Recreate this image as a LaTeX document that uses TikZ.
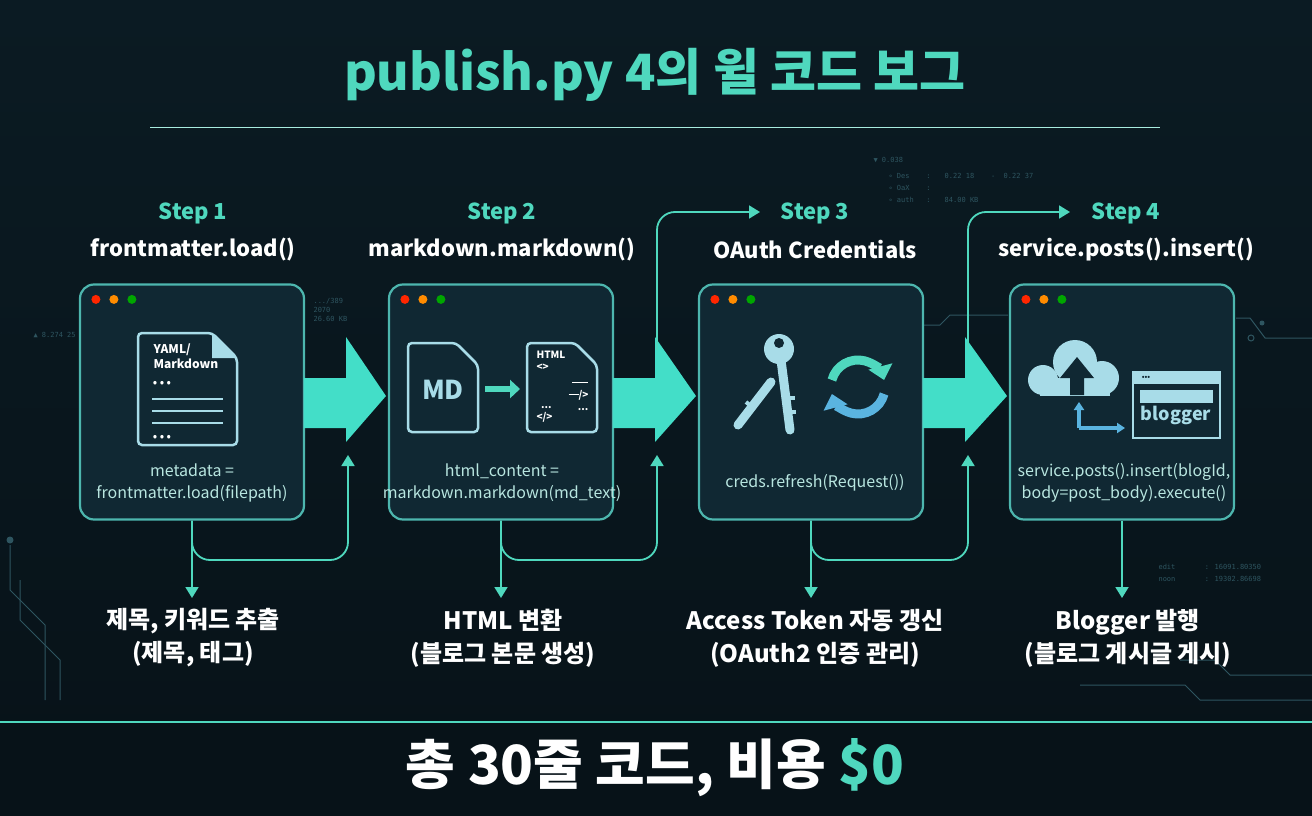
\documentclass[tikz,border=0pt]{standalone}
\usepackage{fontspec}
\setmainfont{Noto Sans CJK KR}
\newfontfamily\mono{DejaVu Sans Mono}
\usetikzlibrary{arrows.meta,shapes.geometric}
\definecolor{bg}{HTML}{0B1B23}
\definecolor{bgb}{HTML}{071218}
\definecolor{teal}{HTML}{4FD8BE}
\definecolor{cardc}{HTML}{102833}
\definecolor{cardb}{HTML}{4DB6AE}
\definecolor{ctext}{HTML}{B8E6E0}
\definecolor{icon}{HTML}{A8DCE8}
\definecolor{iconb}{HTML}{5AB4E0}
\definecolor{deco}{HTML}{2E5560}
\begin{document}
\begin{tikzpicture}[x=1pt,y=-1pt,
 mycard/.style={draw=cardb,line width=2.2pt,fill=cardc,rounded corners=14pt,minimum width=224pt,minimum height=235pt,inner sep=0},
 mystep/.style={text=teal,font=\bfseries\fontsize{22}{24}\selectfont},
 myfn/.style={text=white,font=\bfseries\fontsize{22}{24}\selectfont},
 mycode/.style={text=ctext,font=\fontsize{16}{22}\selectfont,align=center},
 myout/.style={text=white,font=\bfseries\fontsize{24}{33}\selectfont,align=center},
 myflow/.style={draw=teal,line width=1.8pt,rounded corners=18pt},
 mytip/.style={-{Triangle[length=11pt,width=13pt]}},
 mybig/.style={fill=teal!85!cyan,draw=none},
 mydoc/.style={draw=icon,line width=2.5pt,fill=cardc,rounded corners=4pt},
]
\useasboundingbox (0,0) rectangle (1312,816);
\shade[top color=bg,bottom color=bgb] (0,0) rectangle (1312,816);
\fill[bgb] (0,722) rectangle (1312,816);
\draw[teal,line width=1.5pt] (0,722) -- (1312,722);
\draw[teal!50,line width=1pt] (150,127) -- (1160,127);
% decorations
\begin{scope}[draw=deco,line width=1pt]
\draw (10,545) -- (10,590) -- (45,625) -- (45,700);
\fill[deco] (10,540) circle (3.5pt);
\draw (20,580) -- (20,620) -- (60,660) -- (60,700);
\draw (1312,700) -- (1200,700) -- (1185,685) -- (1080,685);
\draw (1312,675) -- (1230,675) -- (1215,660) -- (1180,660);
\draw (924,325) -- (940,325) -- (950,315) -- (1008,315);
\draw (1236,318) -- (1250,318) -- (1265,338) -- (1312,338);
\fill[deco] (1262,323) circle (2.5pt);
\draw (1251,338) circle (3pt);
\draw (891,323) circle (3pt);
\end{scope}
\node[text=deco,font=\mono\fontsize{7}{8}\selectfont,anchor=west] (d1) at (30,335) {▲ 8.274 25};
\node[text=deco,font=\mono\fontsize{7}{9}\selectfont,anchor=west,align=left] (d2) at (310,310) {.../389\\2070\\26.60 KB};
\node[text=deco,font=\mono\fontsize{7}{9}\selectfont,anchor=west,align=left] (d3) at (870,160) {▼ 0.038};
\node[text=deco,font=\mono\fontsize{7}{12}\selectfont,anchor=west,align=left] (d4) at (885,188) {∘ Des \ \ \ : \ \ 0.22 18 \ \ \ - \ 0.22 37\\∘ OaX \ \ \ :\\∘ auth \ \ : \ \ 84.00 KB};
\node[text=deco,font=\mono\fontsize{7}{12}\selectfont,anchor=west,align=left] (d5) at (1155,573) {edit \ \ \ \ \ \ : 16091.80350\\noon \ \ \ \ \ \ : 19302.86698};
% title
\node[text=teal,font=\bfseries\fontsize{50}{54}\selectfont] (title) at (655,75) {publish.py 4의 윌 코드 보그};
% steps headers
\foreach \n/\x/\s/\f in {1/193/Step 1/frontmatter.load(),2/502/Step 2/markdown.markdown(),3/815/Step 3/OAuth Credentials,4/1126/Step 4/service.posts().insert()}{
 \node[mystep] (s\n) at (\x,213) {\s};
 \node[myfn] (f\n) at (\x,250) {\f};
}
% cards
\node[mycard] (c1) at (192,402) {};
\node[mycard] (c2) at (501,402) {};
\node[mycard] (c3) at (811,402) {};
\node[mycard] (c4) at (1122,402) {};
\foreach \c in {c1,c2,c3,c4}{
 \fill[red!70!orange] ([shift={(17,16)}]\c.north west) circle (4.5pt);
 \fill[orange!90!yellow] ([shift={(35,16)}]\c.north west) circle (4.5pt);
 \fill[green!65!black] ([shift={(53,16)}]\c.north west) circle (4.5pt);
}
% big arrows
\foreach \xa/\xb in {304/388,613/698,923/1009}{
 \fill[mybig] (\xa,378) -- (\xa+42,378) -- (\xa+42,337) -- (\xb-2,396) -- (\xa+42,442) -- (\xa+42,428) -- (\xa,428) -- cycle;
}
% card1 icon
\draw[mydoc] (138,333) -- (212,333) -- (237,358) -- (237,445) -- (138,445) -- cycle;
\fill[icon] (212,333) -- (212,358) -- (237,358) -- cycle;
\node[text=white,font=\bfseries\fontsize{12}{15}\selectfont,align=left,anchor=north west] (yaml) at (150,340) {YAML/\\Markdown};
\node[text=white,font=\bfseries\fontsize{11}{11}\selectfont] (dots1) at (162,384) {• • •};
\foreach \y in {399,411,423} \draw[icon,line width=2.5pt] (152,\y) -- (223,\y);
\node[text=white,font=\bfseries\fontsize{11}{11}\selectfont] (dots2) at (162,438) {• • •};
\node[mycode] (k1) at (192,483) {metadata =\\frontmatter.load(filepath)};
% card2 icon
\draw[mydoc] (408,343) -- (456,343) -- (478,365) -- (478,432) -- (408,432) -- cycle;
\node[text=icon,font=\bfseries\fontsize{26}{28}\selectfont] (md) at (443,390) {MD};
\draw[teal,line width=6pt,-{Triangle[length=10pt,width=18pt]}] (485,389) -- (520,389);
\draw[mydoc] (527,343) -- (575,343) -- (597,365) -- (597,432) -- (527,432) -- cycle;
\node[text=white,font=\bfseries\fontsize{10}{12}\selectfont,anchor=north west,align=left] (html) at (533,348) {HTML\\<>};
\node[text=white,font=\bfseries\fontsize{10}{12}\selectfont,anchor=north east,align=right] (html2) at (592,378) {\rule[3pt]{16pt}{1.5pt}\\\rule[3pt]{10pt}{1.5pt}/>\\...};
\node[text=white,font=\bfseries\fontsize{10}{12}\selectfont,anchor=north west,align=left] (html3) at (533,403) {\ \ ...\\</>};
\node[mycode] (k2) at (502,483) {html\_content =\\markdown.markdown(md\_text)};
% card3 icon keys
\draw[icon,line width=9pt,line cap=round] (771,382) -- (738,425);
\draw[icon,line width=4pt] (752,407) -- (746,402);
\draw[icon,line width=9pt,line cap=round] (781,360) -- (790,430);
\draw[icon,line width=4pt] (786,398) -- (795,398);
\draw[icon,line width=4pt] (787,412) -- (796,412);
\fill[icon] (779,349) circle (15);
\fill[cardc] (779,343) circle (5);
\begin{scope}[shift={(858,387)},x=1pt,y=1pt]
\draw[teal,line width=9pt,-{Triangle[length=14pt,width=24pt]}] (165:27) arc (165:15:27);
\draw[iconb,line width=9pt,-{Triangle[length=14pt,width=24pt]}] (-15:27) arc (-15:-165:27);
\end{scope}
\node[mycode] (k3) at (815,483) {creds.refresh(Request())};
% card4 icon
\fill[icon] (1043,380) circle (15pt);
\fill[icon] (1075,362) circle (22pt);
\fill[icon] (1102,378) circle (17pt);
\fill[icon] (1040,378) rectangle (1110,396);
\fill[cardc] (1060,378) -- (1077,357) -- (1094,378) -- (1084,378) -- (1084,395) -- (1070,395) -- (1070,378) -- cycle;
\draw[iconb,line width=4pt,-{Triangle[length=8pt,width=10pt]}] (1079,428) -- (1079,402);
\draw[iconb,line width=4pt,-{Triangle[length=8pt,width=10pt]}] (1079,428) -- (1125,428);
\draw[icon,line width=2.5pt,fill=cardc] (1133,372) rectangle (1220,438);
\fill[icon] (1133,372) rectangle (1220,384);
\node[text=cardc,font=\bfseries\fontsize{7}{7}\selectfont] (wd) at (1146,378) {•••};
\fill[icon] (1140,390) rectangle (1213,403);
\node[text=icon,font=\bfseries\fontsize{18}{20}\selectfont] (blg) at (1176,415) {blogger};
\node[mycode] (k4) at (1124,483) {service.posts().insert(blogId,\\body=post\_body).execute()};
% flow connectors
\coordinate (j1) at (348,560); \coordinate (j2) at (657,560); \coordinate (j3) at (968,560);
\coordinate (u1) at (348,455); \coordinate (u2) at (657,455); \coordinate (u3) at (968,455);
\coordinate (v2) at (657,350); \coordinate (v3) at (968,350);
\coordinate (w2) at (760,212); \coordinate (w3) at (1070,212);
\draw[myflow,mytip] (c1.south) |- (j1) -- (u1);
\draw[myflow,mytip] (c2.south) |- (j2) -- (u2);
\draw[myflow,mytip] (c3.south) |- (j3) -- (u3);
\draw[myflow,mytip] (v2) |- (w2);
\draw[myflow,mytip] (v3) |- (w3);
\node[myout] (o1) at (193,638) {제목, 키워드 추출\\(제목, 태그)};
\node[myout] (o2) at (503,638) {HTML 변환\\(블로그 본문 생성)};
\node[myout] (o3) at (815,638) {Access Token 자동 갱신\\(OAuth2 인증 관리)};
\node[myout] (o4) at (1128,638) {Blogger 발행\\(블로그 게시글 게시)};
\foreach \i in {1,2,3,4} \draw[myflow,mytip] (c\i.south) -- (c\i.south |- 0,598);
% footer
\node[text=white,font=\bfseries\fontsize{54}{58}\selectfont] (foot) at (655,768) {총 30줄 코드, 비용 \textcolor{teal}{\$0}};
\end{tikzpicture}
\end{document}
